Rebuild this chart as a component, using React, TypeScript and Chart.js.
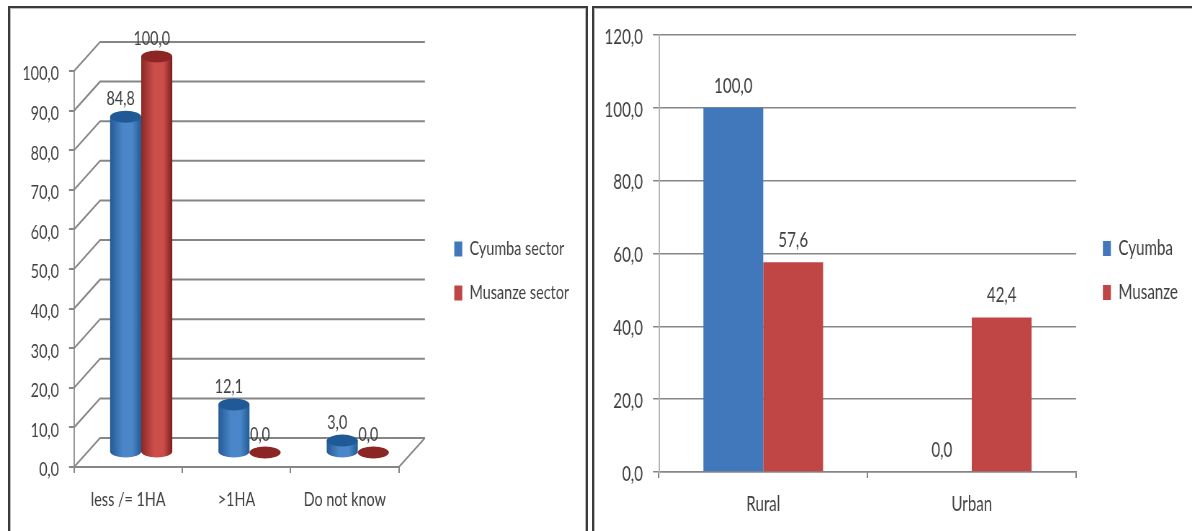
import React, { useEffect, useRef } from "react";
import { Chart, registerables } from "chart.js";

Chart.register(...registerables);

const FONT = "Lato, 'Open Sans', sans-serif";
const TEXT = "#404040";
const GRID = "#868686";
const BLUE = "#4178bc";
const RED = "#bf4644";

const landCategories = ["less /= 1HA", ">1HA", "Do not know"];
const landCyumba = [84.8, 12.1, 3.0];
const landMusanze = [100.0, 0.0, 0.0];

const areaCategories = ["Rural", "Urban"];
const areaCyumba = [100.0, 0.0];
const areaMusanze = [57.6, 42.4];

// The canvases are laid out wider than shown and squeezed by CSS, which gives the condensed lettering.
const SQUEEZE = 0.72;
const wide = (px: number) => px / SQUEEZE;

const DEPTH_X = wide(26);
const DEPTH_Y = 29;

const comma = (v: number) => Number(v).toFixed(1).replace(".", ",");

// Fixes the legend's reserved width and moves it to its final spot in the free space.
const legendPlacement = (width: number, left: number, top: number) => ({
  id: "legendPlacement",
  beforeLayout(chart: any) {
    const legend = chart.legend;
    if (!legend.__fitWrapped) {
      const fit = legend.fit;
      legend.fit = function () {
        fit.call(this);
        this.width = width;
      };
      legend.__fitWrapped = true;
    }
  },
  afterLayout(chart: any) {
    chart.legend.left = left;
    chart.legend.top = top;
  },
});

const barValueLabels = {
  id: "barValueLabels",
  afterDatasetsDraw(chart: any) {
    const { ctx } = chart;
    ctx.save();
    ctx.font = `21px ${FONT}`;
    ctx.fillStyle = TEXT;
    ctx.textAlign = "center";
    ctx.textBaseline = "middle";
    chart.data.datasets.forEach((ds: any, i: number) => {
      chart.getDatasetMeta(i).data.forEach((bar: any, j: number) => {
        ctx.fillText(comma(ds.data[j]), bar.x, bar.y - 22);
      });
    });
    ctx.restore();
  },
};

function cylinder(ctx: CanvasRenderingContext2D, x: number, top: number, base: number, w: number, stops: string[], cap: string) {
  const rx = w / 2;
  const ry = 6;
  if (base - top > 0.5) {
    const g = ctx.createLinearGradient(x - rx, 0, x + rx, 0);
    g.addColorStop(0, stops[0]);
    g.addColorStop(0.4, stops[1]);
    g.addColorStop(0.72, stops[1]);
    g.addColorStop(1, stops[2]);
    ctx.fillStyle = g;
    ctx.beginPath();
    ctx.moveTo(x - rx, top);
    ctx.lineTo(x - rx, base);
    ctx.ellipse(x, base, rx, ry, 0, Math.PI, 0, true);
    ctx.lineTo(x + rx, top);
    ctx.closePath();
    ctx.fill();
  }
  ctx.fillStyle = cap;
  ctx.beginPath();
  ctx.ellipse(x, top, rx, ry, 0, 0, Math.PI * 2);
  ctx.fill();
}

// Perspective walls and floor, then one cylinder per bar element; replaces the flat bars.
const cylinderBars = {
  id: "cylinderBars",
  beforeDatasetsDraw(chart: any) {
    const { ctx, scales, chartArea } = chart;
    const { left, right, bottom } = chartArea;
    ctx.save();
    ctx.strokeStyle = GRID;
    ctx.lineWidth = 2;
    scales.y.ticks.forEach((t: any) => {
      const y = scales.y.getPixelForValue(t.value);
      ctx.beginPath();
      ctx.moveTo(left, y);
      ctx.lineTo(left + DEPTH_X, y - DEPTH_Y);
      ctx.lineTo(right + DEPTH_X, y - DEPTH_Y);
      ctx.stroke();
    });
    ctx.beginPath();
    ctx.moveTo(right, bottom);
    ctx.lineTo(right + DEPTH_X, bottom - DEPTH_Y);
    ctx.stroke();

    const palettes = [
      { stops: ["#255a94", "#4a86c8", "#1f5b95"], cap: "#1f5a96" },
      { stops: ["#8a2826", "#cb4e4b", "#7a1e1c"], cap: "#8c2624" },
    ];
    chart.data.datasets.forEach((_: any, i: number) => {
      chart.getDatasetMeta(i).data.forEach((bar: any) => {
        const p = palettes[i];
        cylinder(ctx, bar.x + DEPTH_X / 2, bar.y - DEPTH_Y / 2, bar.base - DEPTH_Y / 2, bar.width, p.stops, p.cap);
      });
    });

    ctx.font = `20px ${FONT}`;
    ctx.fillStyle = TEXT;
    ctx.textAlign = "center";
    ctx.textBaseline = "middle";
    chart.data.datasets.forEach((ds: any, i: number) => {
      chart.getDatasetMeta(i).data.forEach((bar: any, j: number) => {
        ctx.fillText(comma(ds.data[j]), bar.x + wide(8), bar.y - DEPTH_Y / 2 - 18);
      });
    });
    ctx.restore();
    return false;
  },
};

function axisOptions(opts: {
  max: number;
  step: number;
  yWidth: number;
  xHeight: number;
  tick: number;
  yPad: number;
  xPad: number;
  size: number;
  wallGrid: boolean;
  labelDrop: number;
}) {
  const font = { family: FONT, size: opts.size };
  return {
    x: {
      afterFit: (s: any) => {
        s.height = opts.xHeight;
      },
      grid: { drawOnChartArea: false, color: GRID, tickLength: 6, lineWidth: 2 },
      border: { color: GRID, width: opts.wallGrid ? 2 : 1.5 },
      ticks: { color: TEXT, font, padding: opts.xPad, maxRotation: 0 },
    },
    y: {
      min: 0,
      max: opts.max,
      afterFit: (s: any) => {
        s.width = wide(opts.yWidth);
        // Lato sits high on its middle baseline, so the tick text is nudged down onto its tick.
        if (!s.__dropped) {
          const drawLabels = s.drawLabels;
          s.drawLabels = function (area: any) {
            this.ctx.save();
            this.ctx.translate(0, opts.labelDrop);
            drawLabels.call(this, area);
            this.ctx.restore();
          };
          s.__dropped = true;
        }
      },
      grid: { drawOnChartArea: !opts.wallGrid, color: GRID, tickLength: wide(opts.tick), lineWidth: opts.wallGrid ? 2 : 1.5 },
      border: { color: opts.wallGrid ? "#969696" : "#b4b4b4", width: 2 },
      ticks: { stepSize: opts.step, color: TEXT, font, padding: wide(opts.yPad), callback: (v: any) => comma(v) },
    },
  };
}

function legendOptions(size: number, boxWidth: number, padding: number) {
  return {
    position: "right" as const,
    align: "start" as const,
    labels: { color: TEXT, boxWidth: wide(boxWidth), boxHeight: 15, padding, font: { family: FONT, size } },
  };
}

export default function App() {
  const landRef = useRef<HTMLCanvasElement>(null);
  const areaRef = useRef<HTMLCanvasElement>(null);

  useEffect(() => {
    const land = new Chart(landRef.current!, {
      type: "bar",
      data: {
        labels: landCategories,
        datasets: [
          { label: "Cyumba sector", data: landCyumba, backgroundColor: BLUE },
          { label: "Musanze sector", data: landMusanze, backgroundColor: RED },
        ],
      },
      options: {
        animation: false,
        responsive: false,
        layout: { padding: { top: 71, right: 0, bottom: 0, left: 0 } },
        categoryPercentage: 0.574,
        barPercentage: 1,
        scales: axisOptions({ max: 100, step: 10, yWidth: 74, xHeight: 64, tick: 5, yPad: 10, xPad: 15, size: 20, wallGrid: true, labelDrop: 3 }),
        plugins: {
          legend: legendOptions(20, 8, 24),
          tooltip: { enabled: false },
        },
      } as any,
      plugins: [legendPlacement(wide(191), wide(454) - 24, 215), cylinderBars],
    });

    const area = new Chart(areaRef.current!, {
      type: "bar",
      data: {
        labels: areaCategories,
        datasets: [
          { label: "Cyumba", data: areaCyumba, backgroundColor: BLUE },
          { label: "Musanze", data: areaMusanze, backgroundColor: RED },
        ],
      },
      options: {
        animation: false,
        responsive: false,
        layout: { padding: { top: 35, right: 0, bottom: 0, left: 0 } },
        categoryPercentage: 0.574,
        barPercentage: 1,
        scales: axisOptions({ max: 120, step: 20, yWidth: 63, xHeight: 59, tick: 6, yPad: 10, xPad: 14, size: 21, wallGrid: false, labelDrop: 2 }),
        plugins: {
          legend: legendOptions(21, 8, 23),
          tooltip: { enabled: false },
        },
      } as any,
      plugins: [legendPlacement(wide(116), wide(507) - 23, 215), barValueLabels],
    });

    return () => {
      land.destroy();
      area.destroy();
    };
  }, []);

  const frame: React.CSSProperties = {
    position: "absolute",
    top: 6,
    height: 540,
    boxSizing: "border-box",
    border: "2px solid #3a3a3a",
    outline: "1px solid #bdbdbd",
    outlineOffset: -3,
  };

  return (
    <div style={{ position: "fixed", left: 0, top: 0, width: 1192, height: 531, overflow: "hidden", background: "#fff" }}>
      <div style={{ ...frame, left: 8, width: 580 }} />
      <div style={{ ...frame, left: 592, width: 620 }} />
      <canvas
        ref={landRef}
        width={Math.round(wide(590))}
        height={531}
        style={{ position: "absolute", left: 0, top: 0, width: Math.round(wide(590)) * SQUEEZE, height: 531 }}
      />
      <canvas
        ref={areaRef}
        width={Math.round(wide(596))}
        height={531}
        style={{ position: "absolute", left: 596, top: 0, width: Math.round(wide(596)) * SQUEEZE, height: 531 }}
      />
    </div>
  );
}
